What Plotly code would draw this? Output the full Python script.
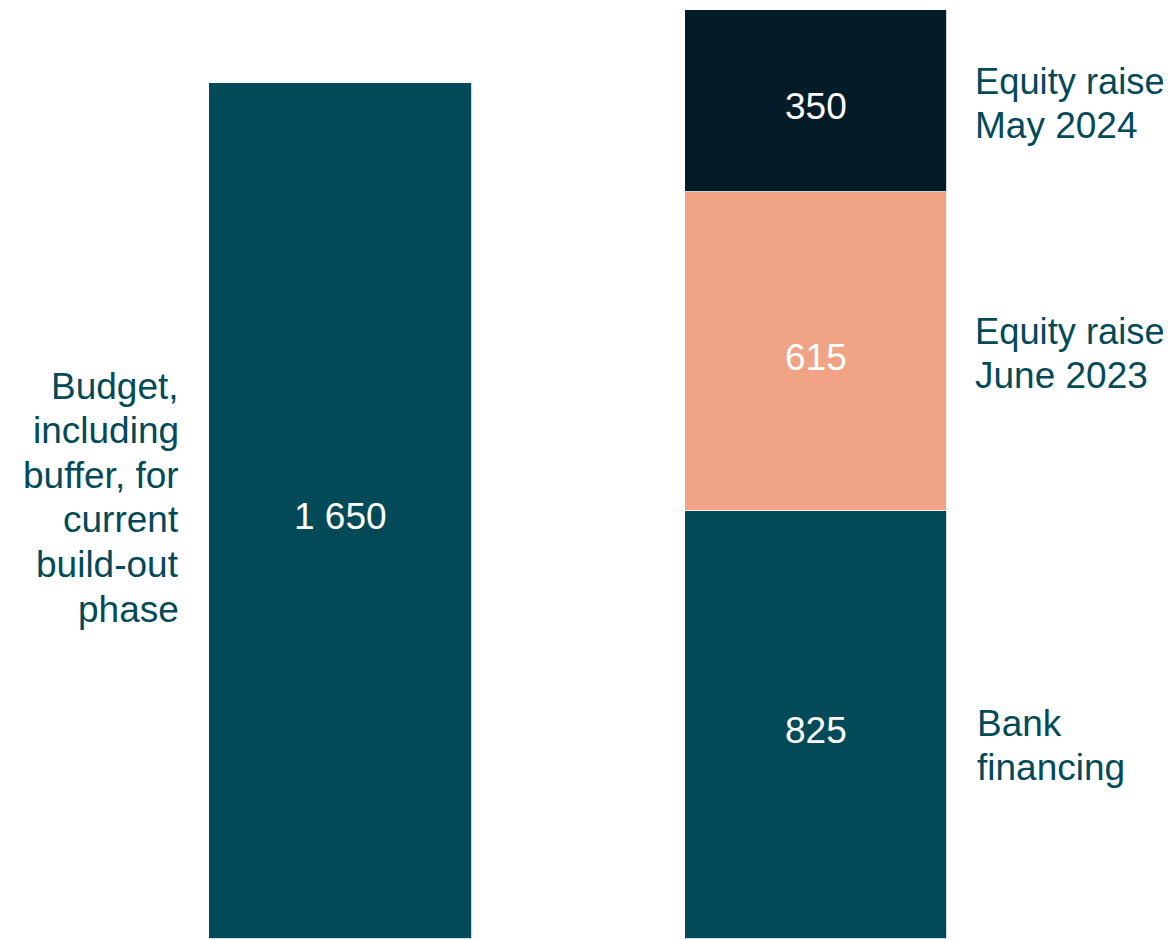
import plotly.graph_objects as go

categories = ["Budget", "Financing"]
budget_values = [1650, None]
bank_values = [None, 825]
equity_2023_values = [None, 615]
equity_2024_values = [None, 350]

budget_text = ["1 650", ""]
bank_text = ["", "825"]
eq23_text = ["", "615"]
eq24_text = ["", "350"]

left_label_lines = ["Budget,", "including", "buffer, for", "current", "build-out", "phase"]
eq24_label_lines = ["Equity raise", "May 2024"]
eq23_label_lines = ["Equity raise", "June 2023"]
bank_label_lines = ["Bank", "financing"]

TEAL = "#034A58"
NAVY = "#041C28"
SALMON = "#F0A385"
FONT = "Liberation Sans, Arial, sans-serif"
FS = 37

W, H = 1171, 939
OFF = 8  # page offset of the figure
S = 929 / 1790  # px per unit

def xdata(page_px):
    return (page_px - OFF - (340.5 - OFF)) / 475.5

def ydata(page_py):
    return (939 - page_py) / S

xpos = [0, 1]
fig = go.Figure()

series = [
    (budget_values, budget_text, TEAL),
    (bank_values, bank_text, TEAL),
    (equity_2023_values, eq23_text, SALMON),
    (equity_2024_values, eq24_text, NAVY),
]
base = [0, 0]
for vals, text, color in series:
    fig.add_trace(go.Bar(
        x=xpos, y=vals, width=0.553,
        marker=dict(color=color, line=dict(color="rgba(255,255,255,0.8)", width=1)),
        showlegend=False, hoverinfo="skip",
    ))
    for i, (v, t) in enumerate(zip(vals, text)):
        if v is None:
            continue
        fig.add_annotation(x=xpos[i], y=base[i] + v / 2, text=t, showarrow=False,
                           xanchor="center", yanchor="middle", yshift=-6,
                           font=dict(color="white", size=FS, family=FONT))
        base[i] += v

def add_lines(lines, page_x, first_center, pitch, anchor, sizes=None):
    for i, line in enumerate(lines):
        size = sizes[i] if sizes else FS
        fig.add_annotation(x=xdata(page_x), y=ydata(first_center + i * pitch), text=line,
                           xanchor=anchor, yanchor="middle", align=anchor,
                           showarrow=False, font=dict(color=TEAL, size=size, family=FONT))

add_lines(left_label_lines, 181, 386, 44.6, "right")
add_lines(eq24_label_lines, 973, 81, 44, "left", [36.3, FS])
add_lines(eq23_label_lines, 973, 331, 44, "left", [36.3, FS])
add_lines(bank_label_lines, 975, 723, 44, "left")

y_bottom = -(OFF + H - 939) / S  # figure bottom below page bottom
fig.update_layout(
    barmode="stack", width=W, height=H,
    margin=dict(l=0, r=0, t=0, b=0),
    paper_bgcolor="white", plot_bgcolor="white",
    xaxis=dict(range=[xdata(OFF), xdata(OFF + W)], visible=False, fixedrange=True),
    yaxis=dict(range=[y_bottom, ydata(OFF)], visible=False, fixedrange=True),
    bargap=0,
)
fig.write_html("out.html")
